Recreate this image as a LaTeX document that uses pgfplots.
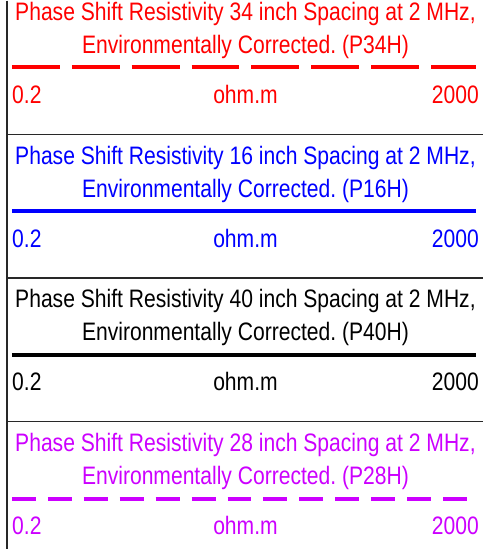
\documentclass[border=0pt]{standalone}
\usepackage{pgfplots}
\pgfplotsset{compat=1.18}
\usepackage{fontspec}
\setmainfont{Liberation Sans}[FakeStretch=0.835]
\frenchspacing
\definecolor{cred}{RGB}{255,0,0}
\definecolor{cblue}{RGB}{0,0,255}
\definecolor{cmag}{RGB}{204,0,255}
\definecolor{csep}{RGB}{40,40,40}
\newcommand{\fs}{\fontsize{25.3}{28}\selectfont}
\begin{document}
\begin{tikzpicture}
\begin{axis}[width=484pt,height=550pt,scale only axis,
  xmin=0,xmax=484,ymin=0,ymax=550,y dir=reverse,
  hide axis, clip=false]
\path (axis cs:0,0) rectangle (axis cs:484,550);
% borders
\draw[csep,line width=1.2pt] (axis cs:7,0) -- (axis cs:7,550);
\draw[csep,line width=1.2pt] (axis cs:7,134) -- (axis cs:484,134);
\draw[csep,line width=1.2pt] (axis cs:7,278) -- (axis cs:484,278);
\draw[csep,line width=1.2pt] (axis cs:7,422) -- (axis cs:484,422);
% curves
\addplot[cred, line width=4pt, dash pattern=on 48pt off 12pt] coordinates {(12,67) (477,67)};
\addplot[cblue, line width=4pt] coordinates {(12,211) (477,211)};
\addplot[black, line width=4pt] coordinates {(12,355) (477,355)};
\addplot[cmag, line width=4pt, dash pattern=on 24pt off 12pt] coordinates {(12,499) (477,499)};
% texts panel 1
\node[anchor=base,text=cred,inner sep=0pt] at (axis cs:246,20) {\fs Phase Shift Resistivity 34 inch Spacing at 2 MHz,};
\node[anchor=base,text=cred,inner sep=0pt] at (axis cs:246,53) {\fs Environmentally Corrected. (P34H)};
\node[anchor=base west,text=cred,inner sep=0pt] at (axis cs:12,103) {\fs 0.2};
\node[anchor=base,text=cred,inner sep=0pt] at (axis cs:246,103) {\fs ohm.m};
\node[anchor=base east,text=cred,inner sep=0pt] at (axis cs:480,103) {\fs 2000};
% panel 2
\node[anchor=base,text=cblue,inner sep=0pt] at (axis cs:246,164) {\fs Phase Shift Resistivity 16 inch Spacing at 2 MHz,};
\node[anchor=base,text=cblue,inner sep=0pt] at (axis cs:246,197) {\fs Environmentally Corrected. (P16H)};
\node[anchor=base west,text=cblue,inner sep=0pt] at (axis cs:12,247) {\fs 0.2};
\node[anchor=base,text=cblue,inner sep=0pt] at (axis cs:246,247) {\fs ohm.m};
\node[anchor=base east,text=cblue,inner sep=0pt] at (axis cs:480,247) {\fs 2000};
% panel 3
\node[anchor=base,text=black,inner sep=0pt] at (axis cs:246,308) {\fs Phase Shift Resistivity 40 inch Spacing at 2 MHz,};
\node[anchor=base,text=black,inner sep=0pt] at (axis cs:246,341) {\fs Environmentally Corrected. (P40H)};
\node[anchor=base west,text=black,inner sep=0pt] at (axis cs:12,391) {\fs 0.2};
\node[anchor=base,text=black,inner sep=0pt] at (axis cs:246,391) {\fs ohm.m};
\node[anchor=base east,text=black,inner sep=0pt] at (axis cs:480,391) {\fs 2000};
% panel 4
\node[anchor=base,text=cmag,inner sep=0pt] at (axis cs:246,452) {\fs Phase Shift Resistivity 28 inch Spacing at 2 MHz,};
\node[anchor=base,text=cmag,inner sep=0pt] at (axis cs:246,485) {\fs Environmentally Corrected. (P28H)};
\node[anchor=base west,text=cmag,inner sep=0pt] at (axis cs:12,535) {\fs 0.2};
\node[anchor=base,text=cmag,inner sep=0pt] at (axis cs:246,535) {\fs ohm.m};
\node[anchor=base east,text=cmag,inner sep=0pt] at (axis cs:480,535) {\fs 2000};
\end{axis}
\end{tikzpicture}
\end{document}
